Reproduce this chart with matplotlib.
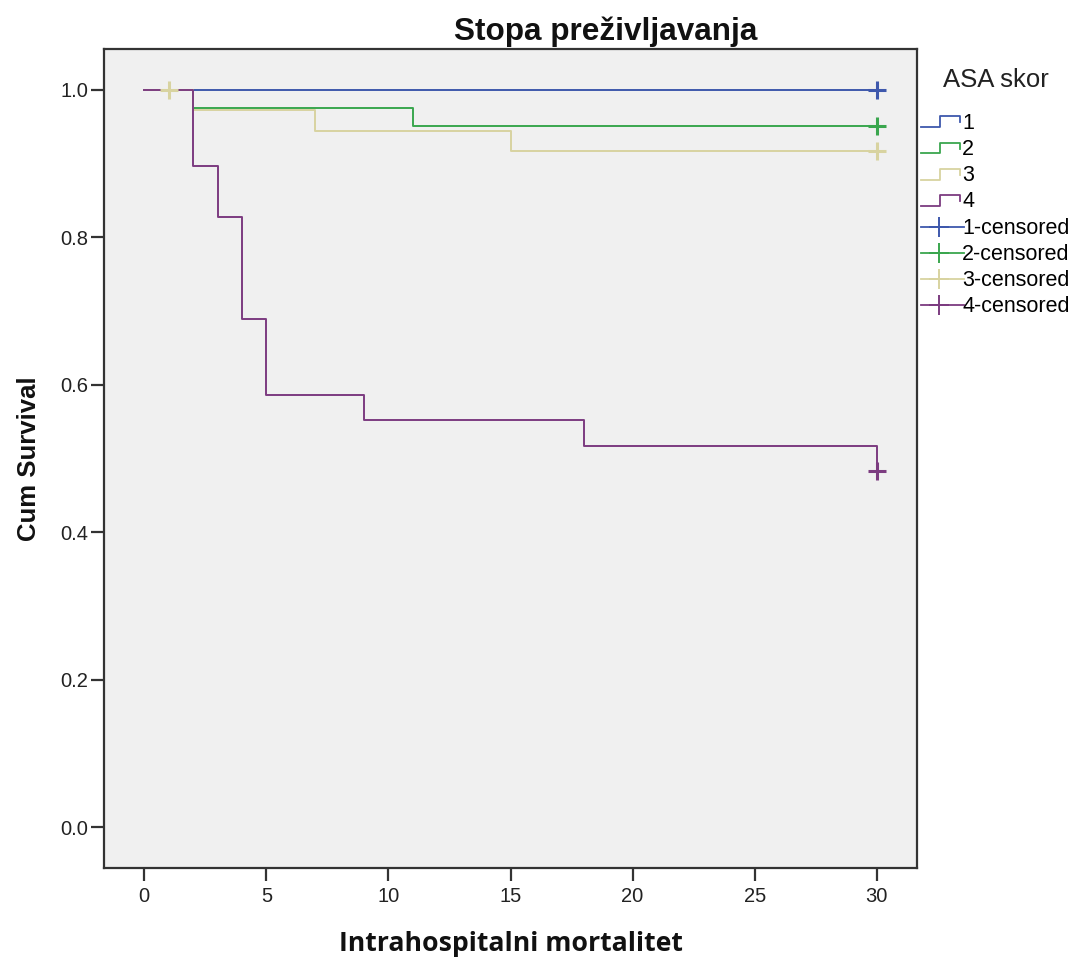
import matplotlib
matplotlib.use("Agg")
import matplotlib.pyplot as plt
from matplotlib.lines import Line2D
from matplotlib.legend_handler import HandlerBase

# ---- data ----
groups = ["1", "2", "3", "4"]
times_1 = [0, 30]
surv_1 = [1.0, 1.0]
times_2 = [0, 2, 11, 30]
surv_2 = [1.0, 0.9756, 0.9512, 0.9512]
times_3 = [0, 2, 7, 15, 30]
surv_3 = [1.0, 0.9722, 0.9444, 0.9167, 0.9167]
times_4 = [0, 2, 3, 4, 5, 9, 18, 30]
surv_4 = [1.0, 0.8966, 0.8276, 0.6897, 0.5862, 0.5517, 0.5172, 0.4828]
cens_t_1 = [30]; cens_s_1 = [1.0]
cens_t_2 = [30]; cens_s_2 = [0.9512]
cens_t_3 = [1, 30]; cens_s_3 = [1.0, 0.9167]
cens_t_4 = [30]; cens_s_4 = [0.4828]
x_ticks = [0, 5, 10, 15, 20, 25, 30]
y_ticks = [0.0, 0.2, 0.4, 0.6, 0.8, 1.0]

colors = ["#3E58AC", "#3AA64E", "#D8D3A0", "#7C3C80"]

W, H = 1082, 959
fig = plt.figure(figsize=(W / 100, H / 100), dpi=100)
fig.patch.set_facecolor("white")
ax = fig.add_axes([104 / W, 1 - 868 / H, (917 - 104) / W, (868 - 49) / H])
ax.set_facecolor("#F0F0F0")

series = [(times_1, surv_1, cens_t_1, cens_s_1),
          (times_2, surv_2, cens_t_2, cens_s_2),
          (times_3, surv_3, cens_t_3, cens_s_3),
          (times_4, surv_4, cens_t_4, cens_s_4)]

for (t, s, ct, cs), c in zip(series, colors):
    ax.step(t, s, where="post", color=c, lw=1.4, zorder=3)
for (t, s, ct, cs), c in zip(series, colors):
    ax.plot(ct, cs, linestyle="none", marker="+", ms=13, mew=2.2, color=c, zorder=4)

ax.set_xlim(-1.65, 31.65)
ax.set_ylim(-0.0556, 1.0556)
ax.set_xticks(x_ticks)
ax.set_xticklabels([str(v) for v in x_ticks])
ax.set_yticks(y_ticks)
ax.set_yticklabels([f"{v:.1f}" for v in y_ticks])
for sp in ax.spines.values():
    sp.set_color("#333333")
    sp.set_linewidth(1.6)
ax.tick_params(direction="out", length=9.5, width=1.6, color="#333333",
               labelsize=14.5, labelcolor="#222222", pad=2,
               labelfontfamily="Liberation Sans")
ax.tick_params(axis="x", pad=4)

ax.set_xlabel("Intrahospitalni mortalitet", fontsize=19.2, fontweight="bold",
              family="Open Sans", labelpad=18, color="#111111")
ax.set_ylabel("Cum Survival", fontsize=18.5, fontweight="bold",
              family="Liberation Sans", labelpad=14, color="#111111")
fig.text(606 / W, 1 - 40 / H, "Stopa preživljavanja", ha="center", va="baseline",
         fontsize=22.7, fontweight="bold", family="Liberation Sans", color="#111111")


class StepHandler(HandlerBase):
    def create_artists(self, legend, orig_handle, xdescent, ydescent,
                       width, height, fontsize, trans):
        x0 = -xdescent
        y0 = -ydescent + 0.1 * height
        h = 0.72 * height
        xs = [x0, x0 + 0.5 * width, x0 + 0.5 * width, x0 + width, x0 + width]
        ys = [y0, y0, y0 + h, y0 + h, y0 + 0.45 * h]
        ln = Line2D(xs, ys, color=orig_handle.get_color(), lw=1.3, transform=trans)
        return [ln]


class CensHandler(HandlerBase):
    def create_artists(self, legend, orig_handle, xdescent, ydescent,
                       width, height, fontsize, trans):
        x0 = -xdescent
        yc = -ydescent + 0.45 * height
        ln = Line2D([x0, x0 + 1.12 * width], [yc, yc], color=orig_handle.get_color(),
                    lw=1.3, transform=trans)
        mk = Line2D([x0 + 0.47 * width], [yc], marker="+", ms=15, mew=1.4,
                    linestyle="none", color=orig_handle.get_color(), transform=trans)
        return [ln, mk]


class StepKey(Line2D):
    pass


class CensKey(Line2D):
    pass


handles = [StepKey([], [], color=c) for c in colors] + \
          [CensKey([], [], color=c) for c in colors]
labels = groups + [g + "-censored" for g in groups]
leg = fig.legend(handles, labels, loc="upper left",
                 bbox_to_anchor=(921 / W, 1 - 68 / H),
                 frameon=False, title="ASA skor",
                 prop={"family": "Liberation Sans", "size": 15.5},
                 title_fontproperties={"family": "Liberation Sans", "size": 18.5},
                 handlelength=1.8, handletextpad=0.12, labelspacing=0.24,
                 borderpad=0, borderaxespad=0,
                 handler_map={StepKey: StepHandler(), CensKey: CensHandler()})
leg._legend_box.align = "center"
leg._legend_box.sep = 15
leg.get_title().set_color("#222222")

fig.savefig("out.png", dpi=100, facecolor="white")
